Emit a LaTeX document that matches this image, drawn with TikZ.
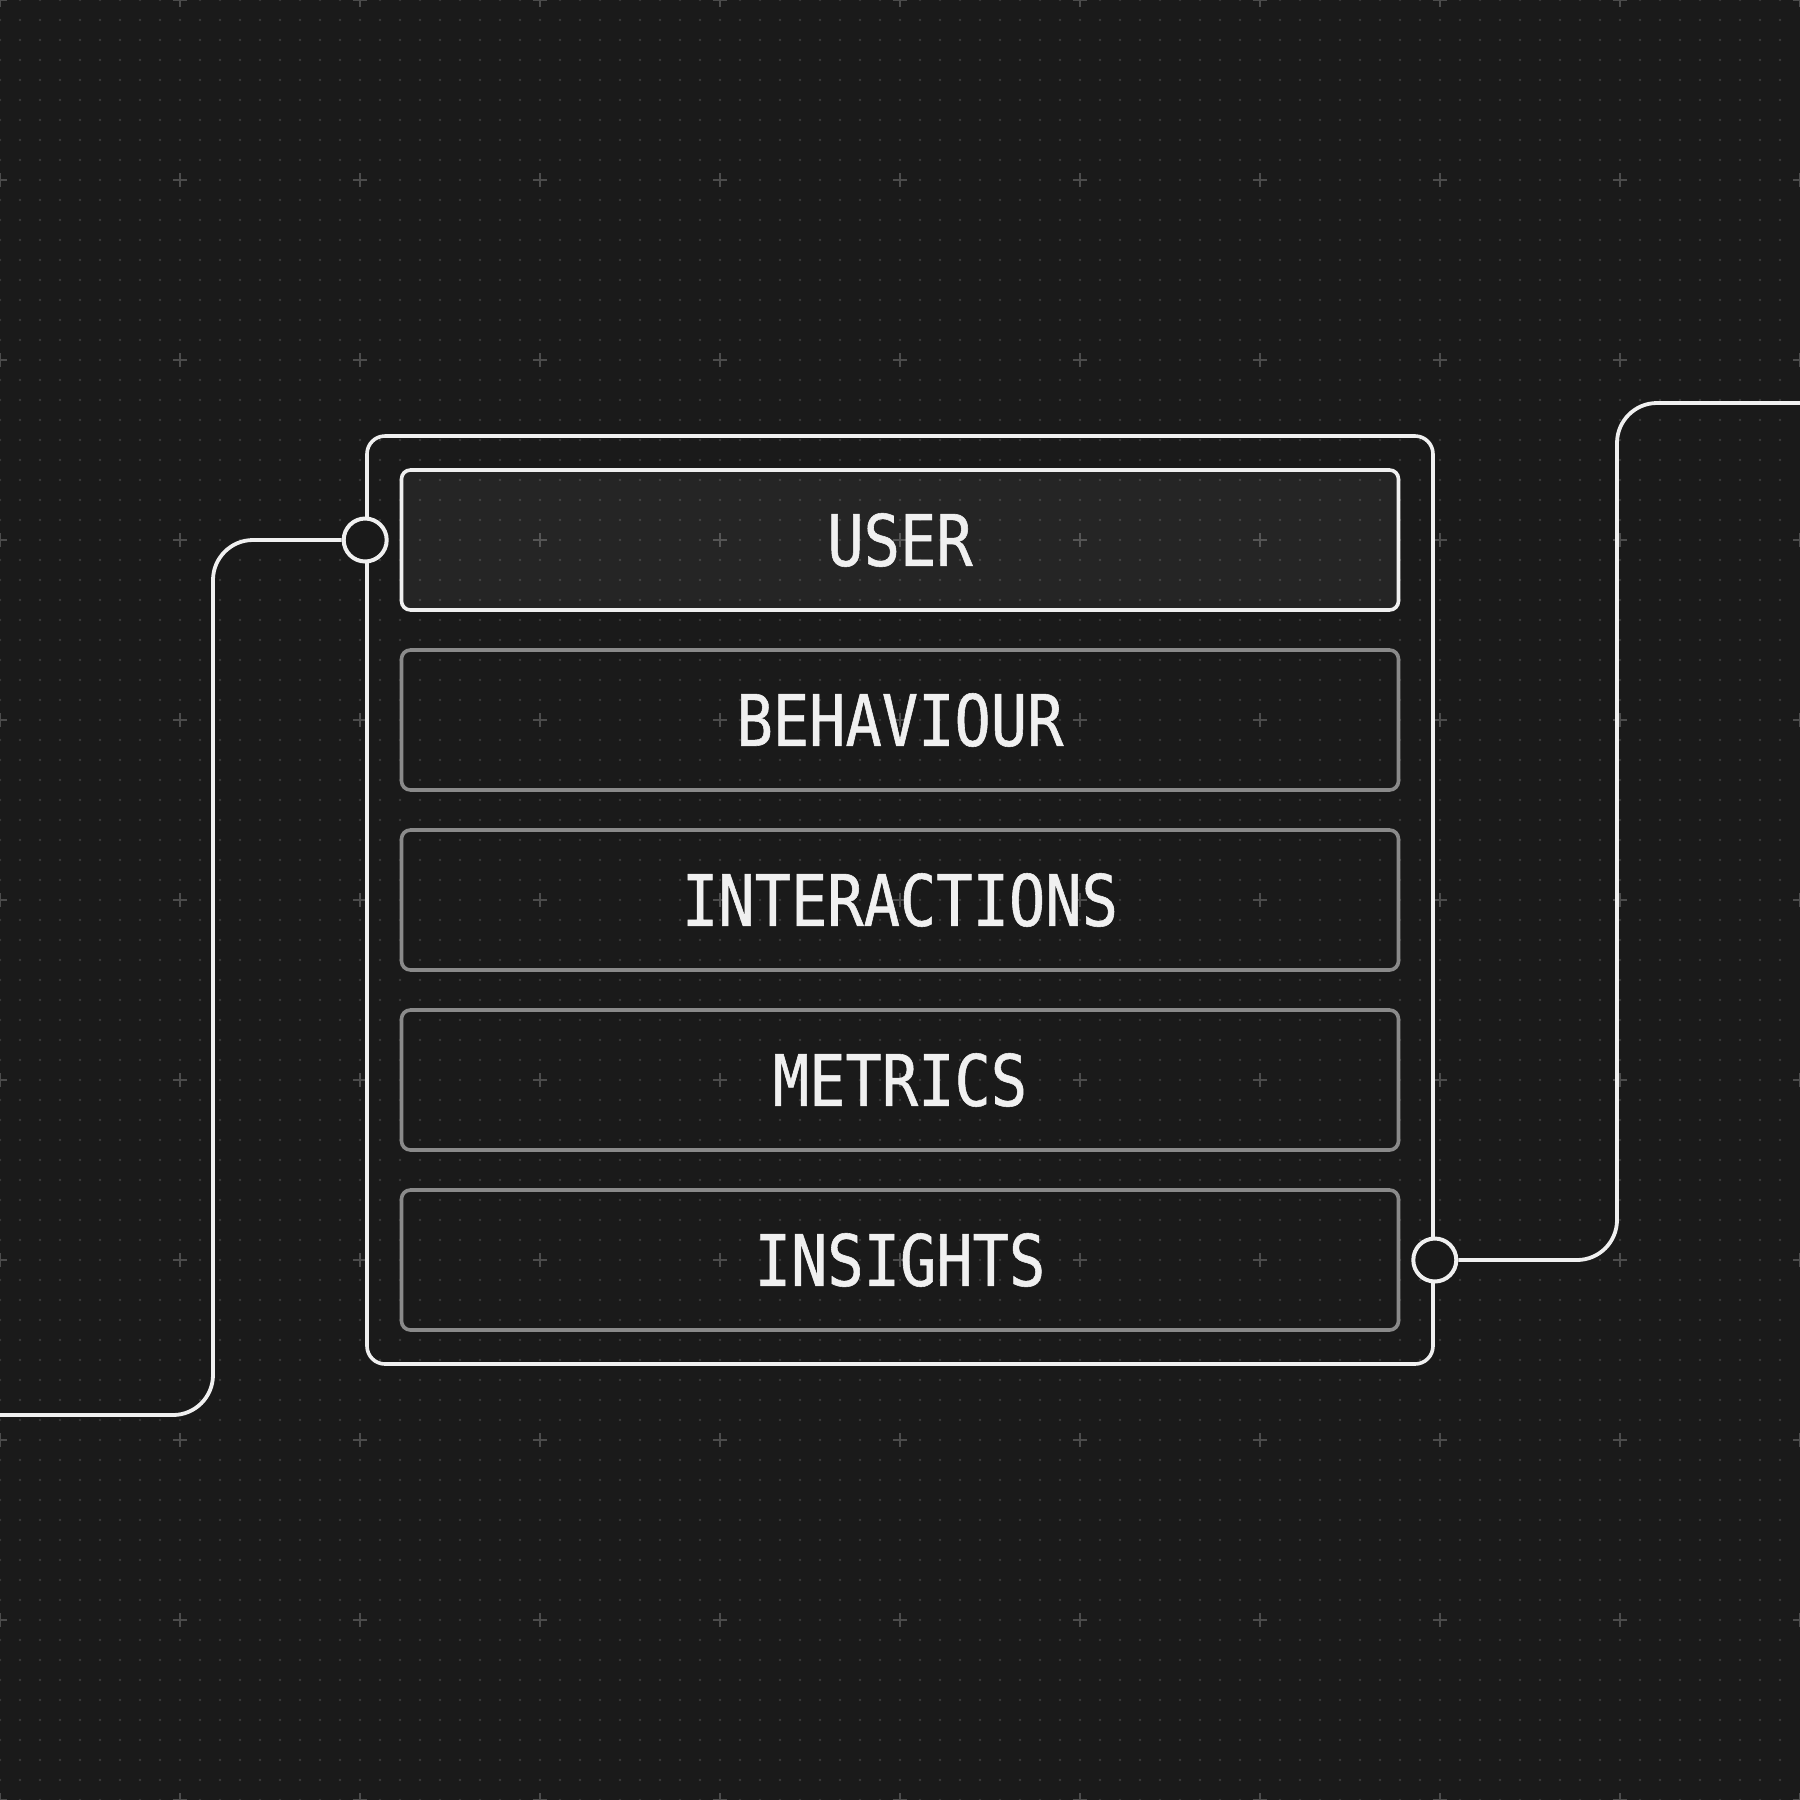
\documentclass[tikz,border=0pt]{standalone}
\usepackage{fontspec}
\newfontfamily\rowfont[FakeStretch=0.85,FakeBold=0.8]{DejaVu Sans Mono}
\definecolor{canvas}{HTML}{1A1A1A}
\definecolor{dotgray}{HTML}{3A3A3A}
\definecolor{crossgray}{HTML}{4C4C4C}
\definecolor{rowgray}{HTML}{8A8A8A}
\definecolor{ink}{HTML}{F0F0F0}

\begin{document}
\begin{tikzpicture}[x=1pt,y=-1pt,
  rowbox/.style={draw=rowgray, line width=3.6pt, rounded corners=9pt, minimum width=997pt,
    minimum height=140pt, inner sep=0pt, text=ink, font=\rowfont\fontsize{71}{71}\selectfont},
  framebox/.style={draw=ink, line width=3.6pt, rounded corners=18pt, minimum width=1066pt,
    minimum height=928pt, inner sep=0pt},
  port/.style={circle, draw=ink, fill=canvas, line width=4pt, minimum size=43pt, inner sep=0pt},
  wire/.style={draw=ink, line width=3.8pt, rounded corners=40pt}]
\useasboundingbox (0,0) rectangle (1800,1800);
\fill[canvas] (0,0) rectangle (1800,1800);
\foreach \y in {0,20,...,1800}
  \draw[dotgray, line width=2.8pt, line cap=round, dash pattern=on 0pt off 20pt] (0,\y) -- (1800,\y);
\foreach \x in {0,180,...,1800}
  \foreach \y in {0,180,...,1800}
    \draw[crossgray, line width=2pt] (\x-7,\y) -- (\x+7,\y) (\x,\y-7) -- (\x,\y+7);

\node[framebox] (frame) at (900,900) {};
\node[rowbox, draw=ink, fill=white, fill opacity=0.05, text opacity=1] (user) at (900,540) {USER};
\foreach \lab [count=\i] in {BEHAVIOUR,INTERACTIONS,METRICS,INSIGHTS}
  \node[rowbox] (row\i) at (900,540+180*\i) {\lab};

\coordinate (lend) at (0,1415);
\coordinate (rend) at (1800,403);
\node[port] (lport) at (frame.west |- user) {};
\node[port] (rport) at (frame.east |- row4) {};
\draw[wire] (lport.west) -- (213,540) -- (213,1415) -- (lend);
\draw[wire] (rport.east) -- (1617,1260) -- (1617,403) -- (rend);
\end{tikzpicture}
\end{document}
